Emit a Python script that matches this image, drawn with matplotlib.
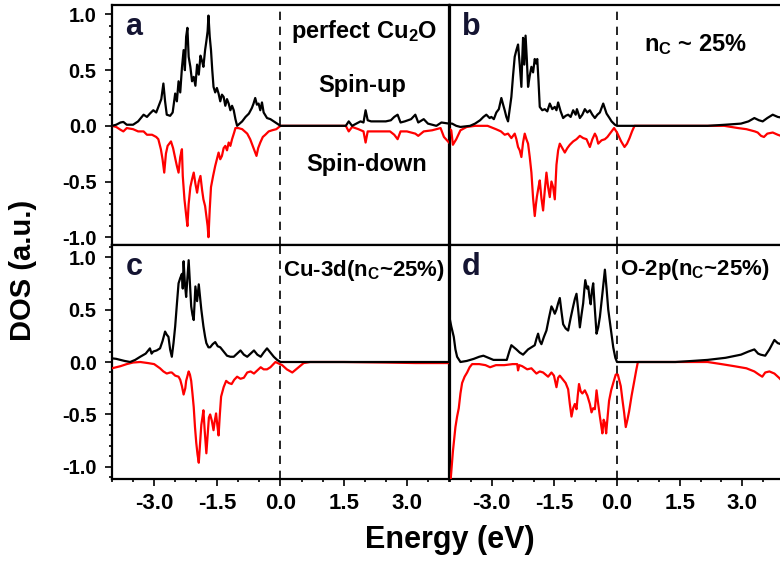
import numpy as np
import matplotlib
matplotlib.use("Agg")
import matplotlib.pyplot as plt
from matplotlib.ticker import MultipleLocator, FormatStrFormatter

plt.rcParams['font.family'] = ['Liberation Sans', 'DejaVu Sans']
plt.rcParams['font.weight'] = 'bold'
plt.rcParams['mathtext.fontset'] = 'custom'
plt.rcParams['mathtext.rm'] = 'Liberation Sans:bold'
plt.rcParams['mathtext.it'] = 'Liberation Sans:bold'
plt.rcParams['mathtext.bf'] = 'Liberation Sans:bold'
plt.rcParams['mathtext.default'] = 'rm'

# ---------------- data ----------------
# panel a: perfect Cu2O
a_up_E = [-4.00, -3.90, -3.80, -3.73, -3.65, -3.50, -3.38, -3.25, -3.17, -3.10, -3.02, -2.95, -2.90, -2.83, -2.78,
          -2.74, -2.70, -2.62, -2.56, -2.50, -2.46, -2.42, -2.38, -2.34, -2.30, -2.27, -2.24, -2.21, -2.18, -2.14,
          -2.10, -2.06, -2.02, -1.98, -1.94, -1.90, -1.86, -1.83, -1.79, -1.76, -1.73, -1.71, -1.68, -1.65, -1.62,
          -1.59, -1.55, -1.51, -1.47, -1.43, -1.39, -1.35, -1.31, -1.27, -1.23, -1.19, -1.15, -1.11, -1.07, -1.03,
          -0.97, -0.91, -0.83, -0.75, -0.68, -0.64, -0.60, -0.56, -0.52, -0.48, -0.44, -0.40, -0.32, -0.24, -0.16,
          -0.08, 0.00, 0.60, 1.20, 1.55, 1.62, 1.70, 1.80, 1.90, 1.97, 2.02, 2.07, 2.15, 2.30, 2.50, 2.62, 2.70,
          2.78, 2.85, 2.95, 3.10, 3.20, 3.27, 3.40, 3.50, 3.70, 3.82, 4.00]
a_up = [0.00, 0.01, 0.03, 0.035, 0.01, 0.01, 0.04, 0.10, 0.08, 0.11, 0.14, 0.12, 0.17, 0.24, 0.38,
        0.22, 0.10, 0.09, 0.12, 0.29, 0.22, 0.40, 0.30, 0.52, 0.68, 0.50, 0.80, 0.88, 0.62, 0.53,
        0.40, 0.44, 0.36, 0.55, 0.46, 0.63, 0.58, 0.53, 0.68, 0.76, 0.85, 0.99, 0.80, 0.68, 0.50,
        0.35, 0.30, 0.34, 0.29, 0.22, 0.28, 0.26, 0.18, 0.24, 0.20, 0.14, 0.18, 0.14, 0.06, 0.00,
        0.02, 0.04, 0.08, 0.11, 0.16, 0.20, 0.25, 0.19, 0.20, 0.14, 0.21, 0.12, 0.07, 0.06, 0.04,
        0.02, 0.00, 0.00, 0.00, 0.00, 0.04, 0.00, 0.02, 0.04, 0.03, 0.14, 0.05, 0.04, 0.04, 0.04, 0.05, 0.08,
        0.10, 0.03, 0.04, 0.06, 0.10, 0.03, 0.06, 0.02, 0.00, 0.03, 0.02]

a_dn_E = [-4.00, -3.90, -3.80, -3.73, -3.65, -3.50, -3.38, -3.25, -3.17, -3.05, -2.95, -2.90, -2.84, -2.80, -2.76,
          -2.72, -2.68, -2.60, -2.55, -2.50, -2.46, -2.42, -2.38, -2.34, -2.32, -2.28, -2.24, -2.21, -2.18, -2.14,
          -2.10, -2.06, -2.02, -1.98, -1.94, -1.90, -1.86, -1.83, -1.79, -1.76, -1.73, -1.71, -1.68, -1.65, -1.60,
          -1.55, -1.51, -1.47, -1.43, -1.39, -1.35, -1.31, -1.27, -1.23, -1.19, -1.15, -1.10, -1.07, -1.00, -0.91,
          -0.85, -0.79, -0.72, -0.66, -0.62, -0.57, -0.53, -0.48, -0.42, -0.36, -0.28, -0.20, -0.10, 0.00, 0.60,
          1.20, 1.55, 1.62, 1.70, 1.85, 1.97, 2.02, 2.07, 2.20, 2.40, 2.60, 2.70, 2.78, 2.85, 3.00, 3.20, 3.27,
          3.40, 3.60, 3.80, 3.88, 4.00]
a_dn = [0.00, -0.01, -0.035, -0.05, -0.02, -0.03, -0.05, -0.05, -0.08, -0.08, -0.10, -0.12, -0.21, -0.30, -0.42,
        -0.25, -0.18, -0.14, -0.20, -0.29, -0.36, -0.42, -0.28, -0.21, -0.45, -0.66, -0.80, -0.90, -0.70, -0.55,
        -0.48, -0.42, -0.52, -0.60, -0.50, -0.45, -0.58, -0.66, -0.72, -0.81, -0.90, -1.00, -0.75, -0.55, -0.45,
        -0.36, -0.30, -0.24, -0.30, -0.27, -0.20, -0.18, -0.22, -0.15, -0.18, -0.12, -0.06, -0.02, -0.02, -0.03,
        -0.05, -0.07, -0.12, -0.18, -0.22, -0.27, -0.20, -0.15, -0.10, -0.08, -0.05, -0.04, -0.03, 0.00, 0.00,
        0.00, 0.00, -0.05, -0.01, -0.03, -0.05, -0.15, -0.05, -0.05, -0.05, -0.05, -0.08, -0.12, -0.05, -0.05, -0.07, -0.09,
        -0.05, -0.04, -0.02, -0.10, -0.15]

# panel b: n_C ~ 25 %
b_up_E = [-4.00, -3.95, -3.85, -3.75, -3.52, -3.40, -3.28, -3.20, -3.13, -3.05, -3.01, -2.95, -2.89, -2.83, -2.77,
          -2.72, -2.69, -2.65, -2.61, -2.57, -2.53, -2.49, -2.45, -2.41, -2.37, -2.33, -2.29, -2.27, -2.25, -2.22,
          -2.19, -2.16, -2.13, -2.09, -2.05, -2.01, -1.97, -1.94, -1.91, -1.88, -1.85, -1.79, -1.73, -1.67, -1.61,
          -1.55, -1.49, -1.45, -1.41, -1.35, -1.29, -1.23, -1.17, -1.11, -1.05, -0.99, -0.96, -0.89, -0.83, -0.77,
          -0.71, -0.65, -0.59, -0.53, -0.47, -0.41, -0.33, -0.25, -0.18, -0.13, -0.05, 0.00, 0.80, 1.60, 2.17,
          2.60, 2.97, 3.15, 3.29, 3.40, 3.49, 3.60, 3.73, 3.85, 4.00]
b_up = [0.02, 0.02, 0.00, -0.01, 0.00, 0.02, 0.05, 0.08, 0.10, 0.07, 0.08, 0.06, 0.12, 0.15, 0.25,
        0.18, 0.14, 0.08, 0.04, 0.15, 0.26, 0.45, 0.62, 0.68, 0.73, 0.55, 0.35, 0.60, 0.79, 0.55,
        0.81, 0.60, 0.35, 0.45, 0.53, 0.48, 0.60, 0.56, 0.60, 0.40, 0.17, 0.14, 0.15, 0.13, 0.20,
        0.15, 0.17, 0.14, 0.21, 0.13, 0.07, 0.09, 0.10, 0.08, 0.14, 0.10, 0.15, 0.07, 0.10, 0.15,
        0.12, 0.14, 0.10, 0.07, 0.10, 0.12, 0.20, 0.11, 0.07, 0.04, 0.01, 0.00, 0.00, 0.00, 0.00,
        0.01, 0.02, 0.04, 0.07, 0.05, 0.04, 0.07, 0.10, 0.08, 0.07]

b_dn_E = [-4.00, -3.97, -3.93, -3.85, -3.75, -3.60, -3.40, -3.10, -2.90, -2.78, -2.69, -2.61, -2.53, -2.45, -2.41,
          -2.37, -2.33, -2.29, -2.25, -2.21, -2.17, -2.13, -2.09, -2.05, -2.01, -1.97, -1.94, -1.92, -1.88, -1.85,
          -1.81, -1.77, -1.73, -1.69, -1.65, -1.61, -1.57, -1.53, -1.49, -1.45, -1.41, -1.37, -1.31, -1.25, -1.19,
          -1.13, -1.05, -0.97, -0.89, -0.81, -0.73, -0.65, -0.59, -0.53, -0.49, -0.45, -0.37, -0.29, -0.23, -0.17,
          -0.07, 0.00, 0.05, 0.10, 0.18, 0.24, 0.30, 0.36, 0.42, 1.20, 2.00, 2.57, 2.90, 3.10, 3.30,
          3.37, 3.45, 3.52, 3.60, 3.73, 3.85, 4.00]
b_dn = [-0.03, -0.04, -0.17, -0.12, -0.04, -0.01, 0.00, 0.00, -0.03, -0.05, -0.08, -0.07, -0.11, -0.07, -0.12,
        -0.19, -0.22, -0.28, -0.15, -0.07, -0.12, -0.16, -0.28, -0.42, -0.65, -0.81, -0.70, -0.64, -0.55, -0.49,
        -0.65, -0.76, -0.58, -0.42, -0.55, -0.64, -0.50, -0.55, -0.66, -0.35, -0.22, -0.16, -0.20, -0.24, -0.20,
        -0.17, -0.14, -0.12, -0.09, -0.11, -0.12, -0.19, -0.12, -0.07, -0.10, -0.16, -0.13, -0.12, -0.10, -0.07,
        -0.02, -0.06, -0.10, -0.14, -0.19, -0.16, -0.11, -0.05, 0.00, 0.00, 0.00, 0.00, -0.02, -0.03, -0.05,
        -0.06, -0.09, -0.10, -0.07, -0.06, -0.08, -0.10]

# panel c: Cu-3d (n_C ~ 25 %)
c_up_E = [-4.00, -3.90, -3.80, -3.70, -3.57, -3.45, -3.33, -3.20, -3.10, -3.06, -3.02, -2.94, -2.86, -2.80, -2.74,
          -2.70, -2.66, -2.62, -2.58, -2.54, -2.50, -2.46, -2.42, -2.38, -2.34, -2.32, -2.30, -2.27, -2.24, -2.21,
          -2.18, -2.15, -2.12, -2.09, -2.06, -2.02, -1.98, -1.94, -1.91, -1.88, -1.83, -1.79, -1.76, -1.71, -1.67,
          -1.61, -1.55, -1.49, -1.43, -1.35, -1.27, -1.19, -1.11, -1.03, -0.95, -0.87, -0.79, -0.71, -0.63, -0.55,
          -0.47, -0.40, -0.32, -0.24, -0.16, -0.08, 0.00, 1.00, 2.00, 3.00, 4.00]
c_up = [0.035, 0.03, 0.02, 0.01, 0.00, 0.02, 0.05, 0.08, 0.13, 0.08, 0.10, 0.11, 0.13, 0.20, 0.29,
        0.26, 0.24, 0.12, 0.05, 0.18, 0.34, 0.55, 0.75, 0.80, 0.84, 0.70, 0.96, 0.75, 0.62, 0.80,
        0.97, 0.75, 0.53, 0.45, 0.40, 0.72, 0.58, 0.74, 0.62, 0.50, 0.34, 0.24, 0.18, 0.14, 0.14,
        0.17, 0.19, 0.15, 0.14, 0.10, 0.06, 0.05, 0.05, 0.08, 0.11, 0.07, 0.05, 0.08, 0.11, 0.07,
        0.05, 0.09, 0.13, 0.09, 0.05, 0.02, 0.00, 0.00, 0.00, 0.00, 0.00]

c_dn_E = [-4.00, -3.90, -3.80, -3.65, -3.50, -3.33, -3.15, -3.00, -2.86, -2.78, -2.70, -2.62, -2.58, -2.50, -2.42,
          -2.38, -2.34, -2.30, -2.26, -2.24, -2.18, -2.15, -2.12, -2.09, -2.06, -2.03, -2.00, -1.97, -1.94, -1.91,
          -1.88, -1.85, -1.83, -1.80, -1.76, -1.73, -1.70, -1.67, -1.63, -1.59, -1.56, -1.53, -1.50, -1.47, -1.44,
          -1.41, -1.35, -1.29, -1.23, -1.16, -1.10, -1.03, -0.95, -0.87, -0.79, -0.71, -0.63, -0.55, -0.47, -0.40,
          -0.32, -0.24, -0.12, 0.04, 0.15, 0.28, 0.40, 0.55, 0.70, 1.50, 2.50, 3.20, 4.00]
c_dn = [-0.06, -0.05, -0.04, -0.02, -0.005, 0.00, -0.01, -0.02, -0.06, -0.09, -0.11, -0.10, -0.10, -0.13, -0.14,
        -0.17, -0.23, -0.31, -0.25, -0.18, -0.09, -0.12, -0.18, -0.30, -0.43, -0.62, -0.77, -0.88, -0.96, -0.78,
        -0.60, -0.52, -0.46, -0.65, -0.87, -0.70, -0.53, -0.50, -0.56, -0.65, -0.56, -0.49, -0.60, -0.70, -0.50,
        -0.33, -0.24, -0.18, -0.20, -0.21, -0.17, -0.14, -0.16, -0.15, -0.10, -0.09, -0.11, -0.08, -0.05, -0.07,
        -0.07, -0.05, 0.00, -0.03, -0.07, -0.10, -0.06, -0.01, 0.00, 0.00, -0.005, -0.01, -0.01]

# panel d: O-2p (n_C ~ 25 %)
d_up_E = [-4.00, -3.97, -3.91, -3.87, -3.83, -3.75, -3.60, -3.43, -3.30, -3.20, -3.08, -2.96, -2.80, -2.64, -2.58,
          -2.53, -2.47, -2.41, -2.33, -2.25, -2.13, -2.05, -1.97, -1.93, -1.89, -1.85, -1.81, -1.75, -1.69, -1.63,
          -1.57, -1.53, -1.49, -1.45, -1.41, -1.37, -1.33, -1.29, -1.23, -1.17, -1.11, -1.05, -1.01, -0.97, -0.93,
          -0.89, -0.85, -0.81, -0.78, -0.76, -0.72, -0.69, -0.66, -0.63, -0.60, -0.57, -0.53, -0.49, -0.45, -0.41,
          -0.35, -0.29, -0.25, -0.21, -0.15, -0.09, -0.04, 0.00, 0.80, 1.40, 1.80, 2.17, 2.60, 2.97, 3.15,
          3.29, 3.38, 3.44, 3.55, 3.65, 3.77, 3.85, 4.00]
d_up = [0.40, 0.34, 0.24, 0.12, 0.05, 0.00, 0.01, 0.03, 0.05, 0.06, 0.04, 0.02, 0.02, 0.02, 0.10,
        0.16, 0.14, 0.12, 0.09, 0.07, 0.12, 0.14, 0.16, 0.22, 0.27, 0.20, 0.17, 0.24, 0.30, 0.42,
        0.53, 0.50, 0.46, 0.50, 0.56, 0.61, 0.48, 0.36, 0.32, 0.30, 0.42, 0.53, 0.60, 0.65, 0.50,
        0.33, 0.45, 0.56, 0.70, 0.78, 0.70, 0.72, 0.62, 0.55, 0.68, 0.75, 0.50, 0.27, 0.33, 0.43,
        0.65, 0.88, 0.70, 0.50, 0.32, 0.14, 0.04, 0.00, 0.00, 0.00, 0.01, 0.02, 0.04, 0.07, 0.10,
        0.12, 0.08, 0.07, 0.06, 0.12, 0.21, 0.18, 0.16]

d_dn_E = [-4.00, -3.97, -3.93, -3.87, -3.83, -3.79, -3.75, -3.71, -3.65, -3.59, -3.53, -3.47, -3.30, -3.15, -3.04,
          -2.90, -2.70, -2.50, -2.39, -2.37, -2.34, -2.27, -2.15, -2.05, -1.93, -1.85, -1.77, -1.65, -1.57, -1.51,
          -1.45, -1.41, -1.37, -1.29, -1.23, -1.17, -1.13, -1.09, -1.05, -1.01, -0.97, -0.94, -0.91, -0.87, -0.83,
          -0.77, -0.71, -0.65, -0.61, -0.57, -0.53, -0.49, -0.45, -0.41, -0.38, -0.35, -0.32, -0.29, -0.26, -0.22,
          -0.19, -0.14, -0.09, -0.03, 0.02, 0.09, 0.13, 0.17, 0.21, 0.25, 0.29, 0.35, 0.41, 0.46, 0.50,
          1.30, 2.17, 2.50, 2.81, 3.10, 3.29, 3.40, 3.48, 3.55, 3.65, 3.77, 3.88, 4.00]
d_dn = [-1.20, -1.05, -0.85, -0.62, -0.52, -0.44, -0.30, -0.20, -0.14, -0.10, -0.05, -0.02, -0.02, -0.03, -0.05,
        -0.03, -0.03, -0.02, -0.02, -0.08, -0.03, -0.04, -0.07, -0.06, -0.11, -0.09, -0.10, -0.14, -0.10, -0.13,
        -0.24, -0.15, -0.13, -0.17, -0.20, -0.26, -0.40, -0.52, -0.44, -0.40, -0.45, -0.32, -0.21, -0.28, -0.30,
        -0.27, -0.32, -0.40, -0.48, -0.44, -0.45, -0.27, -0.40, -0.52, -0.60, -0.68, -0.55, -0.58, -0.68, -0.50,
        -0.37, -0.27, -0.20, -0.12, -0.12, -0.23, -0.36, -0.48, -0.62, -0.55, -0.47, -0.32, -0.19, -0.08, 0.00,
        0.00, 0.00, -0.02, -0.04, -0.06, -0.09, -0.12, -0.14, -0.10, -0.09, -0.11, -0.15, -0.20]

panel_letters = ['a', 'b', 'c', 'd']
x_ticks = [-3.0, -1.5, 0.0, 1.5, 3.0]
y_ticks = [-1.0, -0.5, 0.0, 0.5, 1.0]

# ---------------- figure ----------------
W, H = 780, 561
fig = plt.figure(figsize=(W / 100, H / 100), dpi=100)

def frac(x0, y0, x1, y1):
    return [x0 / W, 1 - y1 / H, (x1 - x0) / W, (y1 - y0) / H]

ax_a = fig.add_axes(frac(112, 5, 449, 245))
ax_b = fig.add_axes(frac(450, 5, 784, 245))
ax_c = fig.add_axes(frac(112, 245, 449, 479))
ax_d = fig.add_axes(frac(450, 245, 784, 479))

curves = [(ax_a, a_up_E, a_up, a_dn_E, a_dn),
          (ax_b, b_up_E, b_up, b_dn_E, b_dn),
          (ax_c, c_up_E, c_up, c_dn_E, c_dn),
          (ax_d, d_up_E, d_up, d_dn_E, d_dn)]

for i, (ax, ue, uv, de, dv) in enumerate(curves):
    ax.plot(de, dv, color='#ff0000', lw=1.6, zorder=3)
    ax.plot(ue, uv, color='black', lw=1.6, zorder=4)
    ax.axvline(0.0, color='black', lw=1.2, ls=(0, (5, 4)), zorder=2)
    ax.set_xlim(-4.0, 4.0)
    top = i < 2
    ax.set_ylim((-1.07, 1.085) if top else (-1.115, 1.115))
    for s in ax.spines.values():
        s.set_linewidth(1.6)
    ax.xaxis.set_major_locator(plt.FixedLocator(x_ticks))
    ax.xaxis.set_minor_locator(MultipleLocator(0.5))
    ax.yaxis.set_major_locator(plt.FixedLocator(y_ticks))
    ax.yaxis.set_minor_locator(MultipleLocator(0.1))
    ax.xaxis.set_major_formatter(FormatStrFormatter('%.1f'))
    ax.yaxis.set_major_formatter(FormatStrFormatter('%.1f'))
    ax.tick_params(which='both', direction='out', top=False, right=False, width=1.2)
    ax.tick_params(which='major', length=5)
    ax.tick_params(which='minor', length=2.5)
    ax.tick_params(axis='x', labelsize=16, pad=5)
    ax.tick_params(axis='y', labelsize=14.5, pad=6)
    if top:
        ax.tick_params(which='both', bottom=False, labelbottom=False)
    if i % 2 == 1:
        ax.tick_params(which='both', left=False, labelleft=False)
    for lab in ax.get_xticklabels() + ax.get_yticklabels():
        lab.set_fontweight('bold')
    ax.text(0.035 if i % 2 else 0.04, 0.875 if top else 0.872, panel_letters[i],
            transform=ax.transAxes, fontsize=22, fontweight='bold', color='#141432',
            ha='left', va='baseline')

ax_a.text(0.24, 0.85, 'perfect Cu$_2$O', fontsize=17, fontweight='bold', ha='left', va='center')
ax_a.text(1.95, 0.36, 'Spin-up', fontsize=17, fontweight='bold', ha='center', va='center')
ax_a.text(2.05, -0.35, 'Spin-down', fontsize=17, fontweight='bold', ha='center', va='center')
ax_b.text(0.65, 0.73, 'n$_C$ ~ 25%', fontsize=17, fontweight='bold', ha='left', va='center')
ax_c.text(0.05, 0.87, 'Cu-3d(n$_C$~25%)', fontsize=16, fontweight='bold', ha='left', va='center')
ax_d.text(0.07, 0.88, 'O-2p(n$_C$~25%)', fontsize=16, fontweight='bold', ha='left', va='center')

fig.text(23 / W, 1 - 270 / H, 'DOS (a.u.)', rotation=90, fontsize=21, fontweight='bold',
         ha='center', va='center')
fig.text(450 / W, 1 - 540 / H, 'Energy (eV)', fontsize=22, fontweight='bold',
         ha='center', va='center')

fig.savefig('out.png', dpi=100)
